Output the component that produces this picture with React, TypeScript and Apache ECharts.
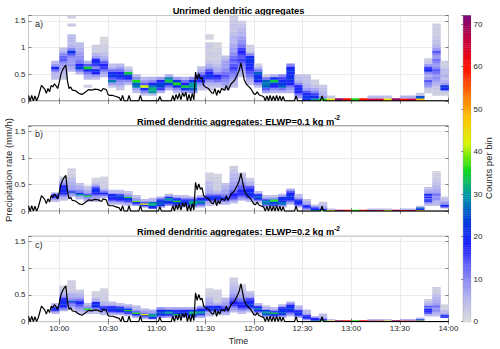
import React, { useEffect, useRef } from 'react';
import * as echarts from 'echarts';

// ---- axis ranges (minutes after midnight, mm/h, counts) ----
const xMinMinutes = 581; // 09:41
const xMaxMinutes = 840; // 14:00
const firstBinMinutes = 595; // 09:55
const binMinutes = 5;
const yMax = 1.6;
const countMax = 72;
const panelBinHeights = [0.05, 0.025, 0.025];

// ---- histogram counts: each row = [first bin index, counts per bin ...], one row per 5-min column ----
const unrimedCounts: number[][] = [
  [8, 4, 5, 6, 12, 20, 8, 5],
  [8, 3, 4, 5, 6, 7, 8, 10, 14, 13, 10, 6, 4],
  [11, 5, 7, 9, 8, 8, 10, 14, 22, 10, 6, 4, 5, 5, 4, 0, 0, 0, 3, 0, 0, 2],
  [10, 5, 12, 24, 18, 12, 10, 9, 8, 7, 6, 5, 4],
  [5, 2, 0, 0, 5, 7, 12, 20, 35, 14, 6],
  [8, 4, 8, 18, 20, 10, 16, 20, 19, 8, 6, 2, 2, 2],
  [9, 5, 7, 12, 16, 18, 14, 8, 6, 4, 3, 2, 2, 1, 1, 1],
  [5, 3, 8, 28, 14, 22, 20, 12, 6, 4],
  [4, 3, 5, 8, 10, 16, 22, 18, 12, 8, 5],
  [6, 5, 10, 18, 22, 34, 6, 2],
  [3, 4, 8, 28, 26, 36, 10, 5],
  [2, 3, 10, 20, 42, 14, 8, 5],
  [2, 5, 30, 32, 28, 18, 10, 6],
  [3, 6, 16, 24, 24, 18, 8],
  [4, 6, 12, 22, 34, 29, 6],
  [3, 5, 10, 20, 36, 22, 8],
  [3, 8, 22, 34, 18, 12, 6],
  [3, 10, 26, 30, 30, 20, 10],
  [4, 4, 6, 10, 18, 20, 16, 10, 6, 4],
  [4, 3, 4, 6, 10, 16, 22, 18, 14, 8, 6, 4, 2, 2, 3, 2, 2, 3, 2, 0, 1, 1],
  [5, 4, 6, 12, 16, 18, 10, 7, 6, 4, 3, 2, 2, 2, 2, 2, 1, 1],
  [4, 4, 6, 8, 10, 12, 14, 12, 10, 8, 8, 8, 6, 4],
  [5, 4, 5, 6, 8, 10, 12, 14, 16, 14, 12, 14, 12, 10, 8, 8, 7, 6, 5, 6, 5, 4, 3, 3, 4, 3, 2, 2],
  [9, 4, 6, 8, 10, 12, 14, 16, 14, 16, 18, 16, 12, 10, 9, 8, 6, 6, 5, 4, 3, 2],
  [6, 4, 6, 8, 12, 14, 16, 18, 20, 20, 22, 20, 10, 3, 2, 2],
  [5, 4, 10, 18, 22, 20, 26, 12, 6, 2],
  [3, 8, 14, 26, 28, 26, 12, 2],
  [3, 6, 10, 18, 22, 34, 20, 6],
  [3, 6, 12, 26, 22, 20, 16, 10],
  [3, 5, 8, 12, 18, 20, 22, 20, 20, 22, 18, 10],
  [1, 8, 12, 18, 20, 18, 10, 6, 5, 4],
  [0, 20, 22, 20, 14, 8, 6, 5, 4, 4, 3],
  [0, 30, 20, 16, 10, 7, 4, 2, 2],
  [0, 36, 8, 6, 5, 4, 3],
  [0, 44, 3],
  [0, 70],
  [0, 60],
  [0, 36],
  [0, 60],
  [0, 66, 5],
  [0, 65, 5],
  [0, 44, 4],
  [0, 70],
  [0, 60, 6],
  [0, 66, 6],
  [0, 48, 25, 3],
  [3, 2, 3, 8, 10, 14, 8, 6, 10, 20, 16, 8, 3, 2],
  [2, 2, 2, 3, 4, 6, 8, 10, 8, 12, 14, 10, 8, 10, 12, 8, 10, 14, 8, 6, 4, 4, 3, 2, 2, 2, 2, 2],
  [2, 2, 3, 20, 22, 8, 6, 4, 6, 4, 5, 3, 2, 2],
];

const rimed01Counts: number[][] = [
  [7, 4, 6, 10, 16, 20, 14, 8],
  [8, 4, 5, 6, 10, 14, 18, 20, 20, 22, 18, 20, 16, 10, 8, 6, 5, 3, 2],
  [11, 6, 8, 10, 24, 12, 8, 8, 7, 7, 6, 6, 5, 5, 4, 3, 2, 2, 1, 2, 1, 2],
  [9, 5, 6, 8, 30, 20, 12, 10, 8, 7, 6, 5, 4],
  [7, 5, 6, 8, 10, 35, 14, 10, 8, 6, 5, 4, 3],
  [7, 4, 6, 7, 8, 10, 14, 18, 20, 22, 20, 18, 10, 8, 6, 2, 2, 2, 1],
  [10, 6, 8, 14, 20, 14, 8, 6, 3, 2, 2, 2, 2, 2, 2, 2, 1],
  [5, 5, 6, 10, 16, 18, 20, 22, 18, 8, 6, 4],
  [5, 5, 7, 12, 18, 20, 22, 24, 14, 8, 5, 4],
  [4, 4, 6, 10, 16, 20, 22, 34, 10, 7, 5, 4],
  [4, 8, 14, 20, 38, 10, 7, 5, 4],
  [3, 10, 20, 44, 14, 8, 5],
  [2, 18, 20, 30, 32, 28, 8, 6, 4],
  [3, 10, 20, 24, 26, 22, 20, 10, 6],
  [4, 8, 14, 20, 22, 28, 30, 18, 8, 5],
  [3, 6, 14, 20, 22, 36, 22, 16, 8, 5],
  [3, 6, 12, 20, 22, 22, 18, 10, 6, 4],
  [3, 8, 14, 28, 32, 30, 20, 10, 6],
  [3, 6, 10, 16, 28, 30, 20, 18, 10, 6],
  [4, 4, 5, 6, 8, 18, 20, 22, 18, 10, 8, 7, 6, 6, 5, 5, 4, 4, 5, 3, 2, 2, 2, 2, 1, 2],
  [5, 5, 6, 8, 16, 20, 22, 18, 10, 7, 6, 3, 2, 2, 2, 2, 2, 2, 2, 2, 1, 2, 1, 1],
  [5, 5, 6, 10, 14, 18, 16, 12, 10, 8, 8, 7, 7, 6, 5, 5, 4],
  [6, 4, 6, 10, 14, 16, 18, 18, 16, 14, 12, 10, 10, 9, 8, 8, 7, 7, 6, 6, 5, 5, 5, 4, 4, 3, 3, 2, 2],
  [8, 5, 8, 10, 14, 16, 18, 18, 20, 16, 14, 14, 12, 10, 8, 7, 6, 6, 5, 4, 4, 3],
  [7, 4, 6, 10, 16, 18, 20, 22, 20, 20, 18, 16, 14, 8, 6, 5, 4, 3, 2],
  [6, 4, 6, 14, 20, 28, 20, 16, 8, 5],
  [3, 6, 12, 26, 28, 30, 20, 8, 6, 4],
  [3, 6, 16, 26, 20, 34, 36, 10, 6, 4],
  [3, 5, 10, 26, 28, 20, 18, 22, 20, 8, 5],
  [5, 5, 8, 12, 18, 20, 22, 22, 20, 18, 16, 10, 6],
  [3, 6, 12, 18, 20, 22, 18, 8, 6, 5, 4],
  [1, 8, 14, 20, 16, 8, 6, 5, 4],
  [0, 30, 20, 18, 8, 4],
  [0, 36, 18, 8, 6, 5, 4, 3],
  [0, 44, 4],
  [0, 70],
  [0, 60],
  [0, 36],
  [0, 60],
  [0, 68, 5],
  [0, 65, 5],
  [0, 44, 4],
  [0, 70],
  [0, 60, 6],
  [0, 66, 6],
  [0, 46, 20, 26, 4],
  [4, 4, 6, 10, 16, 20, 12, 18, 14, 20, 10, 8, 6, 5, 4],
  [4, 4, 5, 6, 5, 8, 10, 8, 10, 12, 10, 8, 6, 7, 6, 5, 5, 4, 4, 3, 3, 2, 2, 2, 2, 2, 1],
  [2, 2, 16, 20, 10, 8, 6, 5, 4, 2],
];

const rimed02Counts: number[][] = [
  [6, 5, 8, 16, 20, 18, 10, 6, 4],
  [8, 6, 10, 14, 18, 20, 20, 22, 20, 18, 16, 12, 8, 6, 5, 4, 3, 2, 2, 1],
  [9, 5, 6, 8, 10, 12, 14, 26, 10, 8, 7, 7, 6, 5, 3, 2, 2, 2, 2, 1, 2, 1, 2],
  [6, 4, 5, 6, 8, 10, 12, 14, 18, 20, 16, 12, 8, 7, 6, 5, 4, 3, 2],
  [6, 5, 6, 8, 36, 10, 8, 6, 5],
  [6, 4, 5, 6, 8, 14, 20, 22, 20, 18, 8, 6, 5, 2, 2, 2, 1, 1],
  [5, 4, 6, 8, 12, 18, 20, 14, 8, 6, 5, 4, 2, 2, 2, 2, 2, 2, 2, 1, 1],
  [5, 5, 7, 16, 20, 22, 18, 16, 8, 5, 4],
  [5, 6, 8, 18, 22, 24, 20, 12, 6, 4],
  [4, 4, 8, 16, 20, 34, 22, 10, 7, 5],
  [3, 6, 12, 20, 36, 14, 8, 6, 5, 4],
  [2, 5, 10, 20, 44, 12, 8, 6, 4],
  [2, 16, 20, 32, 30, 10, 8, 6],
  [3, 8, 16, 22, 26, 22, 20, 12, 8],
  [3, 6, 14, 18, 30, 28, 20, 10, 6],
  [3, 6, 14, 34, 22, 20, 16, 10, 6],
  [3, 6, 14, 20, 22, 22, 18, 10, 6],
  [3, 8, 16, 28, 32, 30, 20, 10, 6],
  [3, 6, 10, 16, 28, 30, 20, 18, 12, 6],
  [4, 4, 5, 6, 8, 16, 20, 22, 18, 10, 8, 7, 6, 6, 5, 4, 2, 2, 2, 2, 1, 1],
  [5, 4, 6, 8, 16, 20, 22, 18, 10, 6, 3, 2, 2, 2, 2, 2, 2, 2, 2, 1],
  [5, 5, 6, 10, 14, 18, 16, 12, 10, 8, 7, 6, 5, 4],
  [7, 4, 6, 8, 10, 12, 16, 18, 18, 16, 14, 12, 10, 9, 8, 7, 6, 6, 5, 5, 4, 4, 3, 3, 2, 2, 2],
  [6, 4, 6, 8, 12, 16, 18, 18, 20, 16, 14, 12, 10, 8, 7, 6, 5, 5, 4, 4, 3, 2, 2],
  [7, 4, 6, 10, 16, 20, 22, 20, 20, 18, 16, 14, 8, 6, 5, 4, 3],
  [5, 4, 6, 14, 20, 28, 20, 16, 8, 5],
  [3, 6, 12, 26, 28, 30, 20, 8, 6, 4],
  [3, 6, 16, 22, 34, 20, 10, 6, 4],
  [3, 5, 10, 20, 26, 20, 22, 20, 18, 8, 5],
  [4, 5, 8, 12, 18, 20, 22, 22, 20, 18, 10, 6],
  [3, 6, 14, 20, 22, 18, 16, 8, 6, 5],
  [1, 6, 16, 20, 18, 8, 6, 5, 4],
  [0, 30, 20, 18, 8],
  [0, 36, 18, 8, 6, 5, 4],
  [0, 44, 4],
  [0, 70],
  [0, 60],
  [0, 36],
  [0, 60],
  [0, 68, 5],
  [0, 65, 5],
  [0, 44, 4],
  [0, 70],
  [0, 60, 6],
  [0, 66, 6],
  [0, 46, 24, 4],
  [4, 4, 6, 14, 18, 16, 20, 10, 14, 8, 6, 4, 3, 2],
  [4, 4, 5, 6, 8, 10, 8, 10, 12, 10, 8, 6, 7, 6, 5, 5, 4, 4, 3, 2, 2, 2, 2],
  [3, 16, 20, 10, 6, 5, 4, 2, 2, 2, 1],
];

// ---- observed precipitation rate (black line), minutes after midnight / mm h-1 ----
const rateTimes = [
  581, 582, 583, 584, 585, 586, 587, 588, 589, 591, 592, 593, 594, 595, 596, 597, 598, 599, 600, 601,
  602, 603, 604, 605, 606, 607, 608, 610, 612, 614, 616, 618, 620, 622, 624, 626, 627, 629, 630, 631,
  633, 635, 637, 638, 639, 640, 642, 643, 644, 649, 650, 651, 661, 662, 663, 669, 670, 671, 672, 673,
  674, 675, 676, 677, 678, 679, 680, 681, 682, 683, 684, 685, 686, 687, 688, 689, 690, 692, 694, 695,
  696, 697, 698, 699, 700, 702, 703, 704, 706, 708, 710, 711, 712, 713, 714, 715, 716, 717, 718, 720,
  721, 722, 723, 724, 726, 727, 728, 729, 730, 731, 732, 733, 734, 735, 736, 737, 738, 739, 745, 746,
  747, 761, 762, 763, 840,
];
const rateValues = [
  0.1, 0.0, 0.1, 0.0, 0.09, 0.0, 0.07, 0.18, 0.29, 0.22, 0.14, 0.23, 0.17, 0.29, 0.26, 0.32, 0.28, 0.23, 0.35, 0.5,
  0.58, 0.63, 0.67, 0.38, 0.23, 0.26, 0.2, 0.19, 0.14, 0.12, 0.16, 0.21, 0.2, 0.22, 0.21, 0.18, 0.23, 0.21, 0.12, 0.1,
  0.1, 0.08, 0.06, 0.0, 0.1, 0.0, 0.0, 0.1, 0.0, 0.0, 0.1, 0.0, 0.0, 0.08, 0.0, 0.0, 0.1, 0.0, 0.12, 0.03,
  0.14, 0.02, 0.15, 0.08, 0.16, 0.0, 0.12, 0.0, 0.14, 0.02, 0.54, 0.4, 0.51, 0.41, 0.44, 0.29, 0.26, 0.23, 0.15, 0.14,
  0.23, 0.1, 0.2, 0.14, 0.23, 0.2, 0.29, 0.2, 0.32, 0.38, 0.5, 0.58, 0.71, 0.55, 0.4, 0.33, 0.29, 0.26, 0.23, 0.13,
  0.12, 0.17, 0.12, 0.1, 0.08, 0.0, 0.09, 0.0, 0.1, 0.0, 0.09, 0.0, 0.1, 0.0, 0.09, 0.0, 0.08, 0.0, 0.0, 0.09,
  0.0, 0.0, 0.09, 0.0, 0.0,
];

// ---- colormap (counts 0..72, evenly spaced stops) ----
const countColors = [
  '#dcdcdc', '#b2b2f0', '#7474f8', '#2020ff', '#0040d8', '#009aa4', '#16dc16',
  '#d8f500', '#ffc400', '#ff6a00', '#ff0a00', '#c8003c', '#7a0a78',
];
const colorbarStep = 0.5;
const colorbarLevels = Array.from({ length: countMax / colorbarStep }, (_, i) => i * colorbarStep);

const panelTitles = [
  'Unrimed dendritic aggregates',
  'Rimed dendritic aggregates: ELWP=0.1 kg m',
  'Rimed dendritic aggregates: ELWP=0.2 kg m',
];
const titleSuperscripts = ['', '-2', '-2'];
const panelLetters = ['a)', 'b)', 'c)'];

// ---- layout ----
const GRID_LEFT = 28.5;
const GRID_WIDTH = 420;
const GRID_HEIGHT = 85.3;
const GRID_TOPS = [15.5, 125.8, 236.3];
const FONT = 'Liberation Sans, Arial, Helvetica, sans-serif';
const TEXT_COLOR = '#262626';

function buildCells(rows: number[][], binH: number) {
  const out: number[][] = [];
  rows.forEach((row, i) => {
    const t0 = firstBinMinutes + i * binMinutes;
    const k0 = row[0];
    for (let j = 1; j < row.length; j++) {
      const c = row[j];
      if (c > 0) out.push([t0, (k0 + j - 1) * binH, c, t0 + binMinutes, (k0 + j) * binH]);
    }
  });
  return out;
}

const renderCell = (_params: any, api: any) => {
  const a = api.coord([api.value(0), api.value(4)]);
  const b = api.coord([api.value(3), api.value(1)]);
  return {
    type: 'rect',
    shape: { x: a[0], y: a[1], width: b[0] - a[0] + 0.35, height: b[1] - a[1] + 0.35 },
    style: { fill: api.visual('color') },
  };
};

const timeFormatter = (v: number) => {
  if (Math.abs(v % 30) > 1e-6) return '';
  const h = Math.floor(v / 60);
  const m = Math.round(v % 60);
  return `${h}:${m < 10 ? '0' : ''}${m}`;
};
const rateFormatter = (v: number) =>
  Math.abs(v * 2 - Math.round(v * 2)) < 1e-6 ? String(Math.round(v * 10) / 10) : '';

function buildOption() {
  const grids: any[] = GRID_TOPS.map((top) => ({
    left: GRID_LEFT,
    top,
    width: GRID_WIDTH,
    height: GRID_HEIGHT,
    show: true,
    borderColor: '#4a4a4a',
    borderWidth: 0.7,
    backgroundColor: 'transparent',
  }));
  grids.push({
    left: 463.3,
    top: 15.5,
    width: 7.3,
    height: 306.2,
    show: true,
    borderColor: '#4a4a4a',
    borderWidth: 0.6,
    backgroundColor: 'transparent',
  });

  const tickStyle = { color: '#333', width: 0.6 };
  const xAxes: any[] = [];
  const yAxes: any[] = [];
  GRID_TOPS.forEach((_, i) => {
    xAxes.push({
      gridIndex: i,
      type: 'value',
      min: xMinMinutes,
      max: xMaxMinutes,
      splitNumber: 8,
      axisLine: { show: false },
      axisTick: { show: true, inside: true, length: 3, lineStyle: tickStyle },
      axisLabel: {
        show: i === 2,
        fontSize: 8,
        color: TEXT_COLOR,
        margin: 3,
        fontFamily: FONT,
        formatter: timeFormatter,
      },
      splitLine: { show: true, lineStyle: { color: '#e4e4e4', width: 0.7 } },
    });
    yAxes.push({
      gridIndex: i,
      type: 'value',
      min: 0,
      max: yMax,
      interval: 0.5,
      axisLine: { show: false },
      axisTick: { show: true, inside: true, length: 3, lineStyle: tickStyle },
      axisLabel: { fontSize: 8, color: TEXT_COLOR, margin: 3, fontFamily: FONT, formatter: rateFormatter },
      splitLine: { show: true, lineStyle: { color: '#e4e4e4', width: 0.7 } },
    });
  });
  // top / right tick-only axes
  GRID_TOPS.forEach((_, i) => {
    xAxes.push({
      gridIndex: i,
      type: 'value',
      position: 'top',
      min: xMinMinutes,
      max: xMaxMinutes,
      splitNumber: 8,
      axisLine: { show: false },
      axisTick: { show: true, inside: true, length: 3, lineStyle: tickStyle },
      axisLabel: { show: false },
      splitLine: { show: false },
    });
    yAxes.push({
      gridIndex: i,
      type: 'value',
      position: 'right',
      min: 0,
      max: yMax,
      interval: 0.5,
      axisLine: { show: false },
      axisTick: { show: true, inside: true, length: 3, lineStyle: tickStyle },
      axisLabel: { show: false },
      splitLine: { show: false },
    });
  });
  // colorbar axes
  xAxes.push({ gridIndex: 3, type: 'value', min: 0, max: 1, show: false });
  yAxes.push({
    gridIndex: 3,
    type: 'value',
    position: 'right',
    min: 0,
    max: countMax,
    interval: 10,
    axisLine: { show: false },
    axisTick: { show: true, inside: true, length: 2, lineStyle: tickStyle },
    axisLabel: {
      fontSize: 8,
      color: TEXT_COLOR,
      margin: 3,
      fontFamily: FONT,
      formatter: (v: number) => (v % 10 === 0 ? String(v) : ''),
    },
    splitLine: { show: false },
  });

  const panelData = [unrimedCounts, rimed01Counts, rimed02Counts];
  const series: any[] = [];
  panelData.forEach((rows, i) => {
    series.push({
      type: 'custom',
      xAxisIndex: i,
      yAxisIndex: i,
      renderItem: renderCell,
      data: buildCells(rows, panelBinHeights[i]),
      clip: true,
      z: 2,
      silent: true,
    });
  });
  const lineData = rateTimes.map((t, j) => [t, rateValues[j]]);
  panelData.forEach((_, i) => {
    series.push({
      type: 'line',
      xAxisIndex: i,
      yAxisIndex: i,
      data: lineData,
      symbol: 'none',
      showSymbol: false,
      clip: true,
      lineStyle: { color: '#000', width: 1.2 },
      z: 5,
      silent: true,
    });
  });
  series.push({
    type: 'custom',
    xAxisIndex: 6,
    yAxisIndex: 6,
    renderItem: renderCell,
    data: colorbarLevels.map((v) => [0, v, v + colorbarStep / 2, 1, v + colorbarStep]),
    z: 2,
    silent: true,
  });

  const graphics: any[] = [];
  const titleCenters = [9.5, 120, 230.5];
  GRID_TOPS.forEach((top, i) => {
    graphics.push({
      type: 'text',
      x: GRID_LEFT + GRID_WIDTH / 2,
      y: titleCenters[i],
      style: {
        text: titleSuperscripts[i]
          ? `{b|${panelTitles[i]}}{s|${titleSuperscripts[i]}}`
          : `{b|${panelTitles[i]}}`,
        rich: {
          b: { fontSize: 9.3, fontWeight: 'bold', fontFamily: FONT, fill: '#000', lineHeight: 12, verticalAlign: 'bottom' },
          s: { fontSize: 6.5, fontWeight: 'bold', fontFamily: FONT, fill: '#000', lineHeight: 12, verticalAlign: 'top' },
        },
        align: 'center',
        verticalAlign: 'middle',
      },
    });
    graphics.push({
      type: 'text',
      x: 35,
      y: top + 8.5,
      style: {
        text: panelLetters[i],
        fontSize: 9,
        fontFamily: FONT,
        fill: TEXT_COLOR,
        align: 'left',
        verticalAlign: 'middle',
      },
    });
  });
  graphics.push({
    type: 'text',
    x: 8,
    y: 170,
    rotation: Math.PI / 2,
    style: {
      text: 'Precipitation rate (mm/h)',
      fontSize: 9.5,
      fontFamily: FONT,
      fill: TEXT_COLOR,
      align: 'center',
      verticalAlign: 'middle',
    },
  });
  graphics.push({
    type: 'text',
    x: GRID_LEFT + GRID_WIDTH / 2,
    y: 341,
    style: { text: 'Time', fontSize: 9, fontFamily: FONT, fill: TEXT_COLOR, align: 'center', verticalAlign: 'middle' },
  });
  graphics.push({
    type: 'text',
    x: 488.5,
    y: 168,
    rotation: Math.PI / 2,
    style: {
      text: 'Counts per bin',
      fontSize: 9.5,
      fontFamily: FONT,
      fill: TEXT_COLOR,
      align: 'center',
      verticalAlign: 'middle',
    },
  });

  return {
    animation: false,
    backgroundColor: '#ffffff',
    textStyle: { fontFamily: FONT },
    grid: grids,
    xAxis: xAxes,
    yAxis: yAxes,
    visualMap: {
      type: 'continuous',
      show: false,
      min: 0,
      max: countMax,
      dimension: 2,
      seriesIndex: [0, 1, 2, 6],
      inRange: { color: countColors },
    },
    series,
    graphic: graphics,
  };
}

export default function App() {
  const ref = useRef<HTMLDivElement>(null);
  useEffect(() => {
    if (!ref.current) return;
    const chart = echarts.init(ref.current, null, { renderer: 'svg' });
    chart.setOption(buildOption() as any);
    return () => chart.dispose();
  }, []);
  return (
    <div
      ref={ref}
      style={{ width: 500, height: 349, position: 'absolute', left: 0, top: 0, background: '#fff' }}
    />
  );
}
